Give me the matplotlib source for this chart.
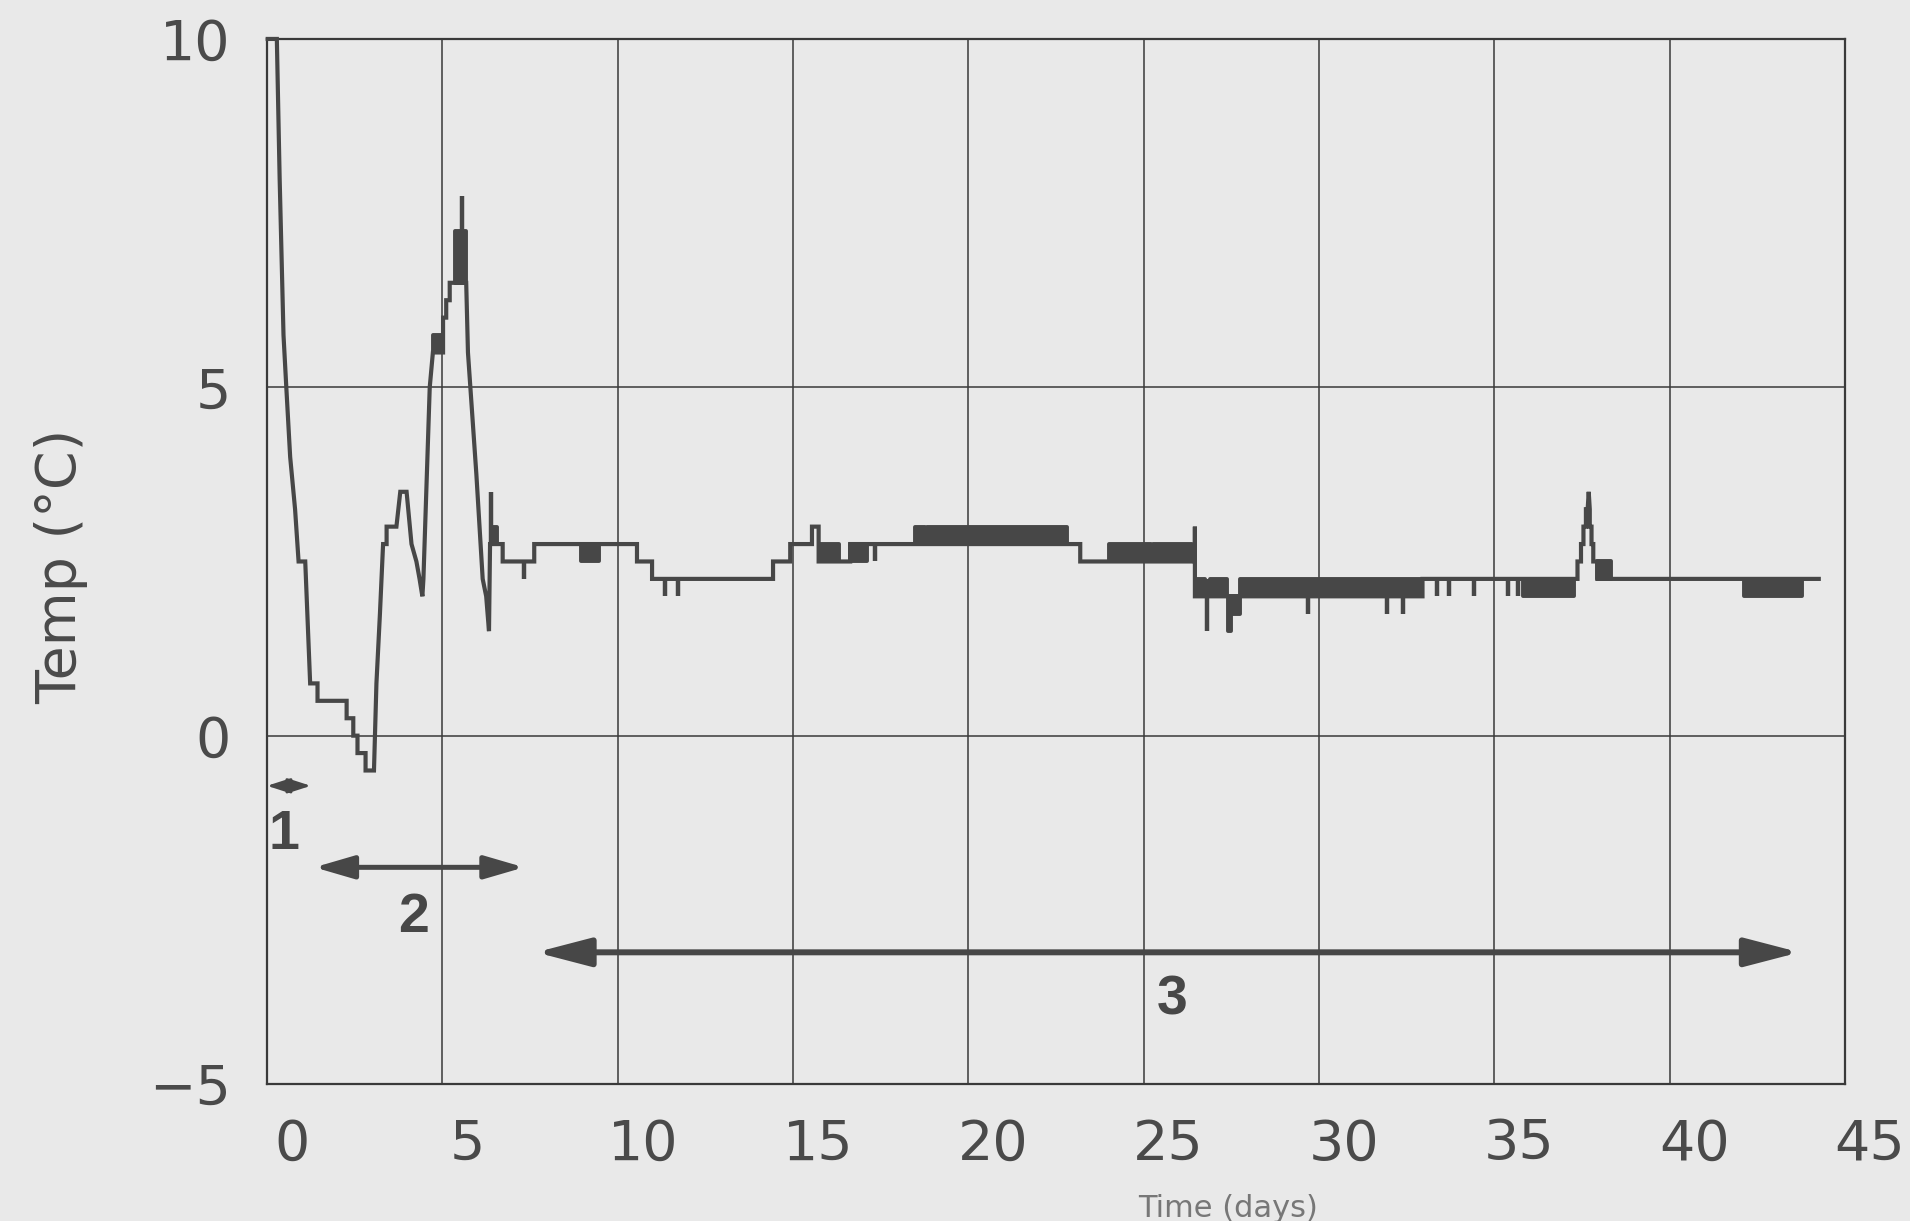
import matplotlib
matplotlib.use("Agg")
import matplotlib.pyplot as plt
import matplotlib.transforms as mtransforms

# logged temperature (day, degC), stepped record
trace = [
    (0.02, 10.0), (0.28, 10.0), (0.36, 8.0), (0.47, 5.75), (0.55, 5.0),
    (0.66, 4.0), (0.80, 3.25), (0.90, 2.5), (1.09, 2.5), (1.23, 0.75),
    (1.44, 0.75), (1.44, 0.5), (2.27, 0.5), (2.27, 0.25), (2.46, 0.25),
    (2.46, 0.0), (2.58, 0.0), (2.58, -0.25), (2.81, -0.25), (2.81, -0.5),
    (3.05, -0.5), (3.12, 0.75), (3.22, 1.75), (3.31, 2.75), (3.41, 2.75),
    (3.41, 3.0), (3.69, 3.0), (3.80, 3.5), (3.98, 3.5), (4.12, 2.75),
    (4.26, 2.5), (4.35, 2.25), (4.43, 2.0), (4.46, 2.25), (4.64, 5.0),
    (4.73, 5.5), (5.02, 5.5), (5.02, 6.0), (5.11, 6.0), (5.11, 6.25),
    (5.21, 6.25), (5.21, 6.5), (5.68, 6.5), (5.73, 5.5), (5.97, 3.75),
    (6.15, 2.25), (6.25, 2.0), (6.33, 1.5), (6.36, 2.75), (6.72, 2.75),
    (6.72, 2.5), (7.62, 2.5), (7.62, 2.75), (10.55, 2.75), (10.55, 2.5),
    (10.98, 2.5), (10.98, 2.25), (14.43, 2.25), (14.43, 2.5), (14.92, 2.5),
    (14.92, 2.75), (15.54, 2.75), (15.54, 3.0), (15.73, 3.0), (15.73, 2.5),
    (16.63, 2.5), (16.63, 2.75), (23.19, 2.75), (23.19, 2.5), (26.46, 2.5),
    (26.46, 3.0), (26.46, 2.0), (32.95, 2.0), (32.95, 2.25), (37.37, 2.25),
    (37.37, 2.5), (37.47, 2.5), (37.47, 2.75), (37.54, 2.75), (37.54, 3.0),
    (37.61, 3.0), (37.61, 3.25), (37.66, 3.25), (37.69, 3.5), (37.72, 3.25),
    (37.72, 3.0), (37.77, 3.0), (37.77, 2.75), (37.82, 2.75), (37.82, 2.5),
    (37.94, 2.5), (37.94, 2.25), (44.25, 2.25),
]
trace_t = [p[0] for p in trace]
trace_T = [p[1] for p in trace]

# stretches where the reading flickered between two levels
band_start = [4.73, 5.35, 6.41, 8.95, 15.73, 16.63, 18.49, 18.82, 24.00, 25.27,
              26.50, 26.90, 27.40, 27.52, 27.76, 35.81, 37.94, 42.12]
band_end = [5.02, 5.68, 6.55, 9.47, 16.30, 17.11, 18.77, 22.81, 25.22, 26.38,
            26.76, 27.38, 27.50, 27.74, 32.95, 37.26, 38.32, 43.78]
band_lo = [5.5, 6.5, 2.75, 2.5, 2.5, 2.5, 2.75, 2.75, 2.5, 2.5,
           2.0, 2.0, 1.5, 1.75, 2.0, 2.0, 2.25, 2.0]
band_hi = [5.75, 7.25, 3.0, 2.75, 2.75, 2.75, 3.0, 3.0, 2.75, 2.75,
           2.25, 2.25, 2.0, 2.0, 2.25, 2.25, 2.5, 2.25]

# single-reading excursions
spike_t = [5.56, 6.40, 7.32, 11.36, 11.71, 17.35, 26.81, 29.69, 31.95, 32.40,
           33.35, 33.72, 34.43, 35.38, 35.66]
spike_from = [7.25, 2.75, 2.5, 2.25, 2.25, 2.75, 2.25, 2.0, 2.0, 2.0,
              2.25, 2.25, 2.25, 2.25, 2.25]
spike_to = [7.75, 3.5, 2.25, 2.0, 2.0, 2.5, 1.5, 1.75, 1.75, 1.75,
            2.0, 2.0, 2.0, 2.0, 2.0]

# phase markers: (start, end, y, label, label x, label y)
phases = [
    (0.0, 1.25, -0.72, "1", 0.48, -1.42),
    (1.35, 7.33, -1.89, "2", 4.17, -2.62),
    (7.67, 43.7, -3.11, "3", 25.8, -3.8),
]

xticks = [0, 5, 10, 15, 20, 25, 30, 35, 40, 45]
yticks = [-5, 0, 5, 10]

bg = "#e9e9e9"
ink = "#474747"

fig = plt.figure(figsize=(19.1, 12.21), dpi=100, facecolor=bg)
ax = fig.add_axes([0.1398, 0.1122, 0.8262, 0.8559], facecolor=bg)

ax.set_xlim(0, 45)
ax.set_ylim(-5, 10)
ax.set_xticks(xticks)
ax.set_yticks(yticks)
ax.grid(True, color="#3a3a3a", lw=1.1)
ax.set_axisbelow(True)
for s in ax.spines.values():
    s.set_color("#3a3a3a")
    s.set_linewidth(1.6)
ax.tick_params(length=0, labelsize=40, labelcolor="#4a4a4a")
ax.tick_params(axis="x", pad=24)
ax.tick_params(axis="y", pad=26)
shift = mtransforms.ScaledTranslation(0.25, 0, fig.dpi_scale_trans)
for lab in ax.get_xticklabels():
    lab.set_transform(lab.get_transform() + shift)
ax.set_yticklabels(["\u22125", "0", "5", "10"])

for a, b, lo, hi in zip(band_start, band_end, band_lo, band_hi):
    ax.fill_between([a, b], lo, hi, color=ink, lw=2.8, edgecolor=ink, zorder=3)
ax.vlines(spike_t, spike_from, spike_to, color=ink, lw=3.2, zorder=3)
ax.plot(trace_t, trace_T, color=ink, lw=3.0, solid_joinstyle="miter", zorder=4, clip_on=False)

heads = {"1": (14, 4.5, 2.0), "2": (24, 7, 3.6), "3": (33, 8.6, 4.3)}
for a, b, y, lab, lx, ly in phases:
    hl, hw, lw = heads[lab]
    ax.annotate("", xy=(b, y), xytext=(a, y),
                arrowprops=dict(arrowstyle=f"<|-|>,head_length={hl},head_width={hw}",
                                mutation_scale=1, lw=lw, color=ink,
                                shrinkA=0, shrinkB=0))
    ax.text(lx, ly, lab, fontsize=40, fontweight="bold", family="Liberation Sans",
            color=ink, ha="center", va="center")

fig.text(0.032, 0.536, "Temp (\u00b0C)", rotation=90, fontsize=40,
         color="#4a4a4a", ha="center", va="center")
fig.text(0.643, 0.0106, "Time (days)", fontsize=22, color="#777777",
         ha="center", va="center")

fig.savefig("out.png", dpi=100, facecolor=bg)
